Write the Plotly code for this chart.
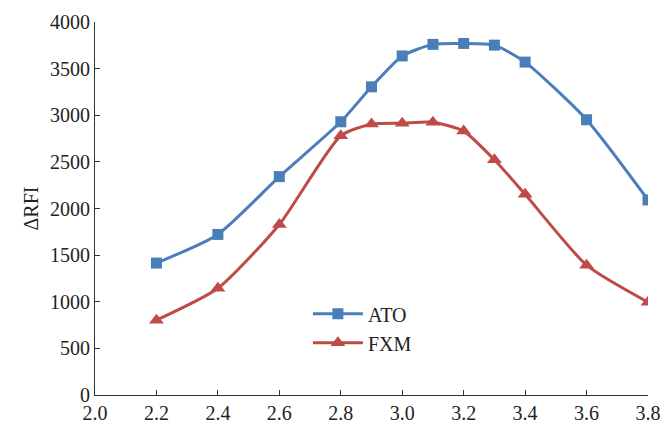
import plotly.graph_objects as go

x_vals = [2.2, 2.4, 2.6, 2.8, 2.9, 3.0, 3.1, 3.2, 3.3, 3.4, 3.6, 3.8]
ato = [1415, 1722, 2342, 2930, 3305, 3636, 3760, 3770, 3752, 3570, 2952, 2092]
fxm = [802, 1144, 1829, 2780, 2905, 2915, 2925, 2830, 2522, 2152, 1392, 995]
x_ticks = [2.0, 2.2, 2.4, 2.6, 2.8, 3.0, 3.2, 3.4, 3.6, 3.8]
y_ticks = [0, 500, 1000, 1500, 2000, 2500, 3000, 3500, 4000]

fig = go.Figure()
fig.add_trace(go.Scatter(
    x=x_vals, y=ato, name="ATO", mode="lines+markers",
    line=dict(color="#4A7EBB", width=3, shape="spline", smoothing=0.6),
    marker=dict(symbol="square", size=11, color="#4A7EBB"),
))
fig.add_trace(go.Scatter(
    x=x_vals, y=fxm, name="FXM", mode="lines+markers",
    line=dict(color="#BE4B48", width=3, shape="spline", smoothing=0.6),
    marker=dict(symbol="triangle-up", size=13, color="#BE4B48"),
))

font = dict(family="Liberation Serif", size=20, color="#222222")
fig.update_layout(
    width=664, height=423,
    margin=dict(l=95, r=16, t=22, b=28),
    paper_bgcolor="white", plot_bgcolor="white",
    font=font,
    showlegend=True,
    legend=dict(x=0.385, y=0.27, xanchor="left", yanchor="top",
                bgcolor="rgba(0,0,0,0)", font=font, tracegroupgap=0,
                itemwidth=50),
)
fig.update_xaxes(
    range=[2.0, 3.8], tickvals=x_ticks, ticktext=[f"{v:.1f}" for v in x_ticks],
    showline=True, linecolor="#333333", linewidth=1,
    ticks="inside", ticklen=5, tickcolor="#333333",
    showgrid=False, zeroline=False, tickfont=font, automargin=False,
)
fig.update_yaxes(
    range=[0, 4000], tickvals=y_ticks,
    showline=True, linecolor="#333333", linewidth=1,
    ticks="inside", ticklen=5, tickcolor="#333333",
    showgrid=False, zeroline=False, tickfont=font, automargin=False,
    title=dict(text="ΔRFI", font=font, standoff=6),
)
fig.write_html("out.html")
